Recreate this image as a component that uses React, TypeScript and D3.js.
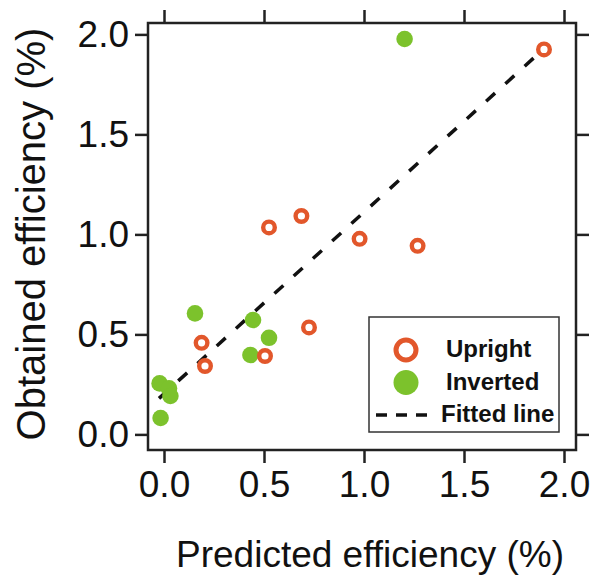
import React, { useRef, useEffect } from 'react'
import * as d3 from 'd3'

// predicted (x) vs obtained (y) efficiency, in %
const uprightX = [1.9, 0.525, 0.687, 0.978, 1.268, 0.725, 0.188, 0.205, 0.505]
const uprightY = [1.925, 1.035, 1.092, 0.978, 0.943, 0.535, 0.458, 0.342, 0.392]
const invertedX = [1.203, 0.155, 0.445, 0.525, 0.432, -0.022, 0.025, 0.032, -0.017]
const invertedY = [1.977, 0.605, 0.572, 0.483, 0.397, 0.255, 0.23, 0.192, 0.082]
const fitX = [-0.025, 1.92]
const fitY = [0.18, 1.947]
const tickValues = [0, 0.5, 1.0, 1.5, 2.0]
const legendLabels = ['Upright', 'Inverted', 'Fitted line']

const ORANGE = '#e2572b'
const GREEN = '#7cc22c'
const FONT = '"Liberation Sans", Arial, Helvetica, sans-serif'

const App = () => {
  const svgRef = useRef<SVGSVGElement>(null)

  useEffect(() => {
    const w = 592
    const h = 577
    const m = { left: 148, right: 576, top: 23, bottom: 450 }
    const svg = d3.select(svgRef.current)
      .attr('width', w)
      .attr('height', h)
    svg.selectAll('*').remove()

    const x = d3.scaleLinear().domain([-0.08, 2.06]).range([m.left, m.right])
    const y = d3.scaleLinear().domain([-0.078, 2.057]).range([m.bottom, m.top])

    // axes on all four sides, ticks pointing out
    const fmt = d3.format('.1f')
    const styleAxis = (g: any, labels: boolean) => {
      g.select('.domain').remove()
      g.selectAll('.tick line').attr('stroke', '#222').attr('stroke-width', 2.5)
      g.selectAll('.tick text')
        .attr('fill', '#111')
        .style('font-family', FONT)
        .style('font-size', '37px')
      if (!labels) g.selectAll('.tick text').remove()
    }
    svg.append('g')
      .attr('transform', `translate(0,${m.bottom})`)
      .call(d3.axisBottom(x).tickValues(tickValues).tickFormat(fmt as any).tickSize(13).tickPadding(8))
      .call((g: any) => styleAxis(g, true))
    svg.append('g')
      .attr('transform', `translate(0,${m.top})`)
      .call(d3.axisTop(x).tickValues(tickValues).tickSize(13))
      .call((g: any) => styleAxis(g, false))
    svg.append('g')
      .attr('transform', `translate(${m.left},0)`)
      .call(d3.axisLeft(y).tickValues(tickValues).tickFormat(fmt as any).tickSize(13).tickPadding(6))
      .call((g: any) => styleAxis(g, true))
    svg.append('g')
      .attr('transform', `translate(${m.right},0)`)
      .call(d3.axisRight(y).tickValues(tickValues).tickSize(13))
      .call((g: any) => styleAxis(g, false))

    // frame
    svg.append('rect')
      .attr('x', m.left)
      .attr('y', m.top)
      .attr('width', m.right - m.left)
      .attr('height', m.bottom - m.top)
      .attr('fill', 'none')
      .attr('stroke', '#222')
      .attr('stroke-width', 2.5)

    // fitted line
    const line = d3.line<number>()
      .x(d => x(d))
      .y((d, i) => y(fitY[i]))
    svg.append('path')
      .attr('d', line(fitX))
      .attr('fill', 'none')
      .attr('stroke', '#111')
      .attr('stroke-width', 3.5)
      .attr('stroke-dasharray', '12,14')

    // points
    svg.append('g').selectAll('circle')
      .data(invertedX)
      .join('circle')
        .attr('cx', d => x(d))
        .attr('cy', (d, i) => y(invertedY[i]))
        .attr('r', 8.3)
        .attr('fill', GREEN)
    svg.append('g').selectAll('circle')
      .data(uprightX)
      .join('circle')
        .attr('cx', d => x(d))
        .attr('cy', (d, i) => y(uprightY[i]))
        .attr('r', 5.8)
        .attr('fill', 'white')
        .attr('stroke', ORANGE)
        .attr('stroke-width', 4.4)

    // legend
    const lg = svg.append('g')
    lg.append('rect')
      .attr('x', 369).attr('y', 317)
      .attr('width', 190).attr('height', 115)
      .attr('fill', 'white')
      .attr('stroke', '#333')
      .attr('stroke-width', 1.5)
    lg.append('circle')
      .attr('cx', 406).attr('cy', 350).attr('r', 10)
      .attr('fill', 'white').attr('stroke', ORANGE).attr('stroke-width', 5)
    lg.append('circle')
      .attr('cx', 406).attr('cy', 382.5).attr('r', 12.5)
      .attr('fill', GREEN)
    lg.append('line')
      .attr('x1', 376).attr('x2', 427)
      .attr('y1', 415).attr('y2', 415)
      .attr('stroke', '#111').attr('stroke-width', 3.5)
      .attr('stroke-dasharray', '11,9')
    lg.selectAll('text')
      .data(legendLabels)
      .join('text')
        .attr('x', (d, i) => (i === 2 ? 441 : 446))
        .attr('y', (d, i) => 357 + i * 32.5)
        .attr('fill', '#111')
        .style('font-family', FONT)
        .style('font-weight', 'bold')
        .style('font-size', '24px')
        .text(d => d)

    // axis titles
    svg.append('text')
      .attr('x', 370)
      .attr('y', 567)
      .attr('text-anchor', 'middle')
      .attr('fill', '#111')
      .style('font-family', FONT)
      .style('font-size', '37px')
      .text('Predicted efficiency (%)')
    svg.append('text')
      .attr('transform', 'translate(45,234) rotate(-90)')
      .attr('text-anchor', 'middle')
      .attr('fill', '#111')
      .style('font-family', FONT)
      .style('font-size', '40px')
      .text('Obtained efficiency (%)')
  })

  return (
    <div className='App' style={{ position: 'absolute', left: 0, top: 0 }}>
      <svg ref={svgRef} style={{ display: 'block', background: 'white' }}></svg>
    </div>
  )
}

export default App
